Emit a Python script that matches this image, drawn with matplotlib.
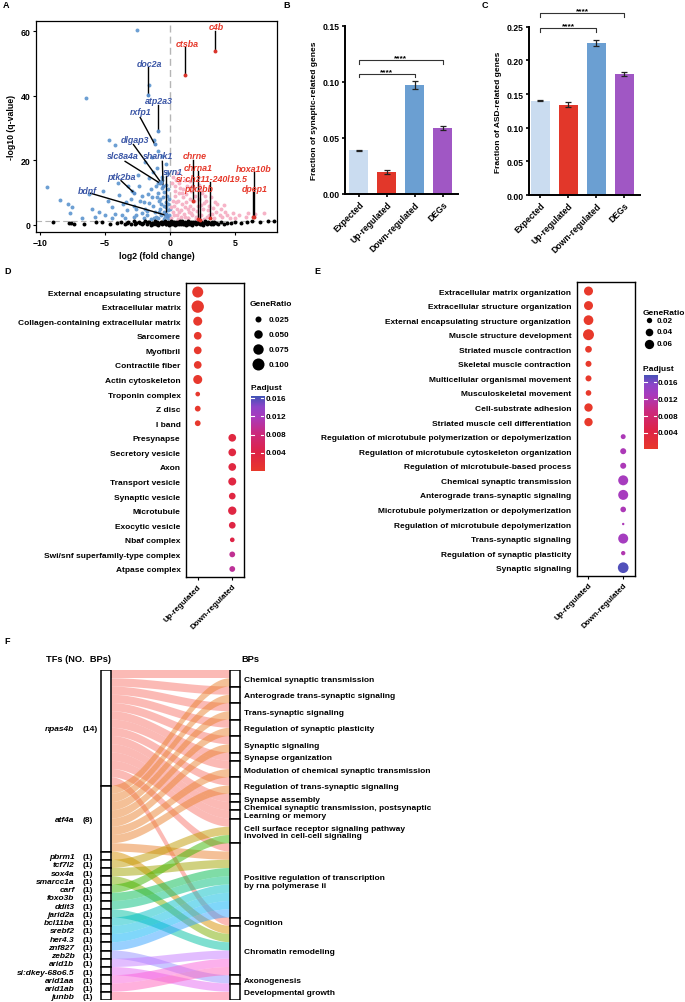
import matplotlib
matplotlib.use("Agg")
import matplotlib.pyplot as plt
import numpy as np
from matplotlib.colors import LinearSegmentedColormap, Normalize
from matplotlib.patches import Rectangle, Polygon

plt.rcParams['font.family'] = ['Liberation Sans', 'DejaVu Sans']
plt.rcParams['font.weight'] = 'bold'
plt.rcParams['axes.labelweight'] = 'bold'

# ======================= DATA =======================
# ---- A: volcano (log2FC, -log10 q) ----
down_pts = [(-2.56,60.4),(-6.49,39.2),(-1.59,43.3),(-4.69,26.4),(-4.23,24.8),(-1.28,26.4),(-0.9,23.0),
            (-9.44,11.7),(-8.46,7.7),(-7.82,6.5),(-7.56,5.5),(-7.7,3.8),(-5.18,10.4),(-6.2,9.5),(-6.0,5.0),
            (-5.5,4.0),(-4.8,7.5),(-4.5,5.5),(-4.2,3.5),(-3.9,9.2),(-3.6,6.5),(-3.3,4.5),(-3.0,8.0),(-2.8,6.0),
            (-2.6,3.0),(-2.4,12.0),(-2.2,9.0),(-2.0,7.0),(-1.9,5.0),(-1.8,3.2),(-1.6,14.5),(-1.5,11.0),(-1.4,8.5),
            (-1.3,6.0),(-1.2,4.0),(-1.1,2.5),(-1.0,17.5),(-0.95,13.0),(-0.9,10.0),(-0.85,7.5),(-0.8,5.0),(-0.7,3.0),
            (-0.65,15.0),(-0.6,11.5),(-0.55,8.5),(-0.5,6.0),(-0.45,4.0),(-0.4,2.5),(-0.35,19.0),(-0.3,12.4),
            (-0.25,9.0),(-0.2,6.5),(-0.15,4.5),(-0.1,3.0),(-5.8,2.5),(-6.8,2.2),(-3.5,2.0),(-2.0,2.0),(-1.5,1.8),
            (-4.0,13.0),(-3.2,12.0),(-2.5,15.5),(-1.9,19.5),(-1.4,21.0),(-0.6,21.5),(-5.0,3.0),(-4.5,2.2),
            (-2.9,10.5),(-2.3,7.5),(-1.7,9.5),(-1.1,12.0),(-0.75,8.0),(-0.3,5.5),(-0.1,8.0),(-1.25,2.0),
            (-0.5,1.8),(-2.6,5.0),(-3.4,7.0),(-0.05,5.0),(-0.2,2.0),(-0.85,4.0),(-1.6,6.8),(-0.45,10.2),
            (-0.7,6.4),(-1.0,8.8),(-0.15,11.0),(-0.9,2.0),(-1.75,4.3),(-2.15,3.6),(-2.75,2.3),(-3.7,3.0),
            (-0.6,14.0),(-0.25,16.0),(-1.3,16.5),(-0.05,2.2),(-0.35,7.2)]
up_pts = [(0.1,2.0),(0.2,4.0),(0.3,6.0),(0.35,9.0),(0.4,12.0),(0.45,14.0),(0.5,3.0),(0.55,5.0),(0.6,7.5),
          (0.65,10.0),(0.7,13.0),(0.8,2.5),(0.85,4.5),(0.9,6.5),(0.95,8.5),(1.0,11.0),(1.05,3.5),(1.1,5.5),
          (1.2,7.0),(1.25,9.5),(1.3,12.0),(1.4,2.2),(1.45,4.0),(1.5,6.0),(1.55,8.0),(1.6,10.5),(1.7,3.0),
          (1.75,5.0),(1.8,7.5),(1.9,9.0),(2.0,2.5),(2.05,4.2),(2.1,6.0),(2.2,8.0),(2.3,11.0),(2.4,3.2),
          (2.5,5.0),(2.6,6.8),(2.7,9.0),(2.8,2.4),(2.9,4.5),(3.0,6.0),(3.1,8.5),(3.2,3.5),(3.3,5.2),(3.4,2.2),
          (3.5,4.0),(3.6,6.5),(3.8,3.0),(3.9,5.0),(4.0,2.5),(4.2,4.0),(4.4,3.0),(4.6,2.2),(4.8,3.6),(5.3,3.0),
          (5.8,2.5),(6.5,3.3),(7.2,3.6),(0.15,13.0),(0.25,15.0),(0.5,16.0),(1.1,14.0),(1.5,13.5),(2.2,12.5),
          (0.2,7.5),(0.4,10.5),(0.75,11.5),(1.35,2.0),(1.65,12.0),(2.45,9.8),(2.75,7.5),(3.45,7.2),(0.1,5.5),
          (0.6,1.8),(1.95,1.8),(2.6,1.9),(4.1,6.2),(5.0,2.0),(6.0,3.8),(0.3,3.2),(0.7,4.0),(1.15,2.6),
          (1.6,3.6),(2.25,3.0),(2.95,3.2),(0.45,7.0),(1.35,5.0),(2.4,6.2),(0.9,9.8),(1.85,11.5)]
ns_pts = [(-9.0,0.9),(-7.8,0.5),(-7.6,0.6),(-7.4,0.4),(-6.6,0.3),(-5.7,0.8),(-5.2,1.0),(-4.6,0.3),(-4.1,0.6),
          (-3.8,1.0),(-3.5,0.4),(-3.2,0.8),(-3.0,0.2),(-2.8,1.1),(-2.6,0.5),(-2.4,0.9),(-2.2,0.2),(-2.1,0.7),
          (-1.9,1.2),(-1.8,0.4),(-1.6,0.9),(-1.5,0.1),(-1.4,0.6),(-1.2,1.1),(-1.1,0.3),(-1.0,0.8),(-0.9,0.0),
          (-0.8,0.5),(-0.7,1.0),(-0.6,0.2),(-0.5,0.7),(-0.4,1.2),(-0.3,0.4),(-0.2,0.9),(-0.1,0.1),(0.0,0.6),
          (0.1,1.1),(0.2,0.3),(0.3,0.8),(0.4,0.0),(0.5,0.5),(0.6,1.0),(0.7,0.2),(0.8,0.7),(0.9,1.2),(1.0,0.4),
          (1.1,0.9),(1.2,0.1),(1.3,0.6),(1.4,1.1),(1.5,0.3),(1.6,0.8),(1.7,0.0),(1.8,0.5),(1.9,1.0),(2.0,0.2),
          (2.1,0.7),(2.2,1.2),(2.3,0.4),(2.4,0.9),(2.5,0.1),(2.6,0.6),(2.7,1.1),(2.8,0.3),(2.9,0.8),(3.0,0.5),
          (3.2,1.0),(3.3,0.2),(3.5,0.7),(3.7,0.4),(3.9,0.9),(4.1,0.3),(4.4,0.7),(4.7,0.5),(5.0,1.0),(5.4,0.6),
          (5.9,0.8),(6.3,1.1),(6.9,1.0),(7.5,1.2),(8.0,1.3),(-1.3,0.2),(-0.95,0.55),(-0.65,0.85),(-0.35,0.15),
          (-0.05,0.45),(0.25,0.95),(0.55,0.25),(0.85,0.35),(1.15,0.55),(1.45,0.75),(1.75,0.95),(2.05,0.45),
          (0.05,0.25),(-0.25,0.65),(0.45,0.85),(0.75,1.15),(1.05,0.15),(1.35,0.35),(-2.3,0.55),(-1.7,0.75),
          (2.35,0.15),(2.65,1.0),(3.1,0.35),(3.4,0.85),(-2.7,0.3),(-3.3,0.6)]
lab_genes = ['c4b', 'ctsba', 'doc2a', 'atp2a3', 'rxfp1', 'dlgap3', 'slc8a4a', 'shank1', 'syn1', 'ptk2ba',
             'bdnf', 'chrne', 'chrna1', 'si:ch211-240l19.5', 'ptk2bb', 'hoxa10b', 'dpep1']
lab_fc = [3.41, 1.15, -1.72, -0.95, -1.20, -0.72, -0.77, -0.55, -0.33, -2.74, -0.26, 1.79, 2.13, 3.03, 2.30, 6.46, 6.33]
lab_q = [53.8, 46.4, 40.2, 29.1, 25.1, 13.2, 12.9, 12.2, 3.4, 9.8, 2.9, 7.5, 1.9, 2.1, 1.6, 2.4, 2.4]
lab_up = [True, True, False, False, False, False, False, False, False, False, False, True, True, True, True, True, True]

# ---- B, C ----
bar_cats = ['Expected', 'Up-regulated', 'Down-regulated', 'DEGs']
syn_frac = [0.039, 0.020, 0.097, 0.059]
syn_err = [0.0005, 0.0018, 0.0035, 0.0018]
asd_frac = [0.140, 0.134, 0.226, 0.180]
asd_err = [0.0008, 0.0040, 0.0040, 0.0030]
sig_pairs = [(0, 2), (0, 3)]
sig_text = ['****', '****']

# ---- D: GO cellular component ----
cc_terms = ['External encapsulating structure', 'Extracellular matrix', 'Collagen-containing extracellular matrix',
            'Sarcomere', 'Myofibril', 'Contractile fiber', 'Actin cytoskeleton', 'Troponin complex', 'Z disc',
            'I band', 'Presynapse', 'Secretory vesicle', 'Axon', 'Transport vesicle', 'Synaptic vesicle',
            'Microtubule', 'Exocytic vesicle', 'Nbaf complex', 'Swi/snf superfamily-type complex', 'Atpase complex']
cc_group = [0]*10 + [1]*10
cc_ratio = [0.084, 0.105, 0.056, 0.041, 0.041, 0.041, 0.056, 0.015, 0.023, 0.023,
            0.041, 0.041, 0.041, 0.044, 0.031, 0.048, 0.031, 0.015, 0.023, 0.023]
cc_padj = [0.0003]*10 + [0.0032, 0.0032, 0.0033, 0.0034, 0.0035, 0.0036, 0.0037, 0.0040, 0.0095, 0.0098]
cc_size_breaks = [0.025, 0.050, 0.075, 0.100]

# ---- E: GO biological process ----
bp_terms = ['Extracellular matrix organization', 'Extracellular structure organization',
            'External encapsulating structure organization', 'Muscle structure development',
            'Striated muscle contraction', 'Skeletal muscle contraction', 'Multicellular organismal movement',
            'Musculoskeletal movement', 'Cell-substrate adhesion', 'Striated muscle cell differentiation',
            'Regulation of microtubule polymerization or depolymerization',
            'Regulation of microtubule cytoskeleton organization', 'Regulation of microtubule-based process',
            'Chemical synaptic transmission', 'Anterograde trans-synaptic signaling',
            'Microtubule polymerization or depolymerization', 'Regulation of microtubule depolymerization',
            'Trans-synaptic signaling', 'Regulation of synaptic plasticity', 'Synaptic signaling']
bp_group = [0]*10 + [1]*10
bp_ratio = [0.056, 0.056, 0.065, 0.083, 0.031, 0.025, 0.025, 0.022, 0.048, 0.048,
            0.017, 0.025, 0.025, 0.069, 0.069, 0.022, 0.004, 0.069, 0.013, 0.079]
bp_padj = [0.0003]*10 + [0.0125, 0.0125, 0.0125, 0.0130, 0.0130, 0.0125, 0.0125, 0.0132, 0.0120, 0.0172]
bp_size_breaks = [0.02, 0.04, 0.06]
padj_breaks = [0.004, 0.008, 0.012, 0.016]

# ---- F: TF -> BP sankey ----
tf_order = ['npas4b', 'atf4a', 'pbrm1', 'tcf7l2', 'sox4a', 'smarcc1a', 'carf', 'foxo3b', 'ddit3', 'jarid2a',
            'bcl11ba', 'srebf2', 'her4.3', 'znf827', 'zeb2b', 'arid1b', 'si:dkey-68o6.5', 'arid1aa',
            'arid1ab', 'junbb']
bp_order = ['Chemical synaptic transmission', 'Anterograde trans-synaptic signaling', 'Trans-synaptic signaling',
            'Regulation of synaptic plasticity', 'Synaptic signaling', 'Synapse organization',
            'Modulation of chemical synaptic transmission', 'Regulation of trans-synaptic signaling',
            'Synapse assembly', 'Chemical synaptic transmission, postsynaptic', 'Learning or memory',
            'Cell surface receptor signaling pathway\ninvolved in cell-cell signaling',
            'Positive regulation of transcription\nby rna polymerase ii', 'Cognition', 'Chromatin remodeling',
            'Axonogenesis', 'Developmental growth']
B = bp_order
tf_targets = {
    'npas4b': [B[0], B[1], B[2], B[3], B[4], B[5], B[6], B[7], B[8], B[9], B[10], B[11], B[12], B[13]],
    'atf4a': [B[0], B[1], B[2], B[3], B[4], B[6], B[7], B[12]],
    'pbrm1': [B[14]], 'tcf7l2': [B[11]], 'sox4a': [B[12]], 'smarcc1a': [B[14]], 'carf': [B[11]],
    'foxo3b': [B[12]], 'ddit3': [B[12]], 'jarid2a': [B[14]], 'bcl11ba': [B[12]], 'srebf2': [B[12]],
    'her4.3': [B[12]], 'znf827': [B[12]], 'zeb2b': [B[15]], 'arid1b': [B[14]], 'si:dkey-68o6.5': [B[16]],
    'arid1aa': [B[14]], 'arid1ab': [B[14]], 'junbb': [B[16]],
}

# ======================= LAYOUT HELPERS =======================
W, H = 685, 1003
fig = plt.figure(figsize=(W / 100, H / 100), dpi=100)


def px_axes(l, t, r, b):
    return fig.add_axes([l / W, 1 - b / H, (r - l) / W, (b - t) / H])


LBL = 6.0
BLUE_TXT = '#3b56a6'
RED_TXT = '#e6392b'

# panel letters
for letter, (x, y) in zip('ABCDEF', [(3, 6), (283, 6), (482, 6), (4, 271), (314, 271), (4, 642)]):
    fig.text(x / W, 1 - y / H, letter, fontsize=6.5, fontweight='bold', va='center', ha='left')

# ======================= A =======================
axA = px_axes(36, 22, 277, 233)
nx, ny = zip(*ns_pts)
dx, dy = zip(*down_pts)
ux, uy = zip(*up_pts)
axA.scatter(dx, dy, s=8, c='#6c9fd3', lw=0, zorder=2)
axA.scatter(ux, uy, s=8, c='#f6b3c7', lw=0, zorder=2)
axA.scatter(nx, ny, s=8, c='black', lw=0, zorder=3)
axA.axvline(0, color='#b5b5b5', ls=(0, (5, 3)), lw=1.0, zorder=1)
axA.axhline(1.3, color='#b5b5b5', ls=(0, (5, 3)), lw=0.8, zorder=1)

lab_text_xy = [(3.51, 61.5), (1.28, 56.2), (-1.62, 50.0), (-0.9, 38.5), (-2.26, 35.2), (-2.69, 26.4),
               (-3.67, 21.5), (-0.9, 21.5), (0.2, 16.6), (-3.72, 15.0), (-6.36, 10.8), (1.92, 21.5),
               (2.18, 17.8), (3.2, 14.4), (2.18, 11.4), (6.41, 17.6), (6.46, 11.4)]
lab_seg_start = [(3.41, 60.2), (1.15, 55.0), (-1.72, 48.8), (-0.95, 37.2), (-2.3, 33.3), (-2.82, 24.9),
                 (-3.46, 19.7), (-0.6, 19.7), (-0.33, 15.3), (-3.77, 13.7), (-6.1, 9.8), (1.79, 20.2),
                 (2.13, 16.6), (3.03, 13.2), (2.3, 10.2), (6.46, 16.5), (6.33, 10.1)]
for g, fc, q, up, (tx, ty), (sx, sy) in zip(lab_genes, lab_fc, lab_q, lab_up, lab_text_xy, lab_seg_start):
    col = RED_TXT if up else BLUE_TXT
    axA.plot([sx, fc], [sy, q], color='black', lw=1.0, zorder=4)
    axA.scatter([fc], [q], s=8, c=('#d9342b' if up else '#5b8fcb'), lw=0, zorder=5)
    axA.text(tx, ty, g, color=col, fontsize=6.4, fontweight='bold', style='italic', ha='center',
             va='center', zorder=6)
axA.set_xlim(-10.3, 8.2)
axA.set_ylim(-2.2, 63.2)
axA.set_xticks([-10, -5, 0, 5])
axA.set_yticks([0, 20, 40, 60])
axA.tick_params(labelsize=6.3, length=2.5, width=0.8, pad=1.5)
for sp in axA.spines.values():
    sp.set_linewidth(0.9)
axA.set_ylabel('-log10 (q-value)', fontsize=6.3, fontweight='bold', labelpad=3)
axA.set_xlabel('log2 (fold change)', fontsize=6.3, fontweight='bold', labelpad=3)

# ======================= B & C =======================
bar_colors = ['#cadcf0', '#e2372a', '#6b9fd2', '#a057c4']


def bar_panel(ax, vals, errs, ylim, yticks, ylabel, xlim, br_y, br_drop):
    xs = np.arange(len(bar_cats))
    ax.bar(xs, vals, width=0.68, color=bar_colors, zorder=2)
    ax.errorbar(xs, vals, yerr=errs, fmt='none', ecolor='#222222', elinewidth=0.9, capsize=2.0,
                capthick=0.9, zorder=3)
    ax.set_xlim(*xlim)
    ax.set_ylim(*ylim)
    ax.set_yticks(yticks)
    ax.set_yticklabels([f'{t:.2f}' for t in yticks])
    ax.set_xticks(xs)
    ax.set_xticklabels(bar_cats, rotation=45, ha='right', rotation_mode='anchor')
    ax.tick_params(labelsize=6.2, length=2.5, width=1.2, pad=1.5)
    for s in ['top', 'right']:
        ax.spines[s].set_visible(False)
    for s in ['left', 'bottom']:
        ax.spines[s].set_linewidth(1.4)
    ax.set_ylabel(ylabel, fontsize=6.0, fontweight='bold', labelpad=3)
    for (a, b), txt, y in zip(sig_pairs, sig_text, br_y):
        ax.plot([a, a, b, b], [y - br_drop, y, y, y - br_drop], color='#333333', lw=0.8, clip_on=False)
        ax.text((a + b) / 2, y - br_drop * 0.3, txt, ha='center', va='bottom', fontsize=6.0, clip_on=False)


axB = px_axes(345, 26.7, 458, 195)
bar_panel(axB, syn_frac, syn_err, (0, 0.15), [0, 0.05, 0.10, 0.15], 'Fraction of synaptic-related genes',
          (-0.5, 3.55), [0.107, 0.119], 0.003)
axC = px_axes(529, 27.7, 640, 196)
bar_panel(axC, asd_frac, asd_err, (0, 0.25), [0, 0.05, 0.10, 0.15, 0.20, 0.25], 'Fraction of ASD-related genes',
          (-0.4, 3.57), [0.2476, 0.270], 0.005)

# ======================= D & E =======================
cmap = LinearSegmentedColormap.from_list('padj', [(0.0, '#e8392b'), (0.25, '#de2347'), (0.5, '#cc2a7d'),
                                                  (0.72, '#a93bbd'), (0.86, '#8d45c9'), (1.0, '#4053b6')])
SIZE_K = 750.0  # scatter area (pt^2) per unit GeneRatio
groups = ['Up-regulated', 'Down-regulated']


def dot_panel(rect, terms, grp, ratio, padj, norm):
    ax = px_axes(*rect)
    n = len(terms)
    ys = np.arange(n)
    ax.scatter(grp, ys, s=np.array(ratio) * SIZE_K, c=padj, cmap=cmap, norm=norm, lw=0, zorder=3)
    ax.set_xlim(-0.34, 1.34)
    ax.set_ylim(n - 0.45, -0.6)
    ax.set_yticks(ys)
    ax.set_yticklabels(terms)
    ax.set_xticks([0, 1])
    ax.set_xticklabels(groups, rotation=45, ha='right', rotation_mode='anchor')
    ax.tick_params(axis='y', length=0, pad=4, labelsize=LBL)
    ax.tick_params(axis='x', length=2, width=0.8, pad=2, labelsize=5.8)
    for sp in ax.spines.values():
        sp.set_linewidth(1.0)
    return ax


def colorbar_px(rect, vmin, vmax, label_x):
    cax = px_axes(*rect)
    grad = np.linspace(vmin, vmax, 256).reshape(-1, 1)
    cax.imshow(grad, aspect='auto', cmap=cmap, norm=Normalize(vmin, vmax), origin='lower',
               extent=(0, 1, vmin, vmax))
    cax.set_xlim(0, 1)
    cax.set_ylim(vmin, vmax)
    cax.axis('off')
    for t in padj_breaks:
        cax.plot([0, 0.22], [t, t], color='white', lw=0.8)
        cax.plot([0.78, 1], [t, t], color='white', lw=0.8)
        fig.text(label_x / W, (1 - (rect[3] - (t - vmin) / (vmax - vmin) * (rect[3] - rect[1])) / H),
                 f'{t:.3f}', fontsize=5.9, fontweight='bold', va='center', ha='left')


normD = Normalize(0.0, 0.0166)
axD = dot_panel((186, 284.3, 244, 578), cc_terms, cc_group, cc_ratio, cc_padj, normD)
colorbar_px((250.7, 396.7, 264, 471.7), 0.0, 0.0166, 265.5)

normE = Normalize(0.0002, 0.0178)
axE = dot_panel((576.7, 283.3, 635, 576.7), bp_terms, bp_group, bp_ratio, bp_padj, normE)
colorbar_px((644, 375.7, 657.3, 450), 0.0002, 0.0178, 658)

# overlay axes in pixel coordinates for legends
ov = fig.add_axes([0, 0, 1, 1])
ov.set_xlim(0, W)
ov.set_ylim(H, 0)
ov.axis('off')
ov.patch.set_alpha(0)

ov.text(250, 304, 'GeneRatio', fontsize=6.0, fontweight='bold', ha='left', va='center')
for br, y in zip(cc_size_breaks, [320, 335, 350, 365]):
    ov.scatter([257.7], [y], s=br * SIZE_K, c='black', lw=0)
    ov.text(269, y, f'{br:.3f}', fontsize=5.9, fontweight='bold', ha='left', va='center')
ov.text(250.5, 388, 'P.adjust', fontsize=6.0, fontweight='bold', ha='left', va='center')

ov.text(643, 313, 'GeneRatio', fontsize=6.0, fontweight='bold', ha='left', va='center')
for br, y in zip(bp_size_breaks, [321, 332.5, 344.5]):
    ov.scatter([649.5], [y], s=br * SIZE_K, c='black', lw=0)
    ov.text(657, y, f'{br:.2f}', fontsize=5.9, fontweight='bold', ha='left', va='center')
ov.text(643, 369.5, 'P.adjust', fontsize=6.0, fontweight='bold', ha='left', va='center')

# ======================= F: sankey =======================
hue20 = ['#F8766D', '#EA8331', '#D89000', '#C09B00', '#A3A500', '#7CAE00', '#39B600', '#00BB4E', '#00BF7D',
         '#00C1A3', '#00BFC4', '#00BAE0', '#00B0F6', '#35A2FF', '#9590FF', '#C77CFF', '#E76BF3', '#FA62DB',
         '#FF62BC', '#FF6C91']
tf_color = dict(zip(tf_order, hue20))

total = sum(len(v) for v in tf_targets.values())
axF = px_axes(0, 671, W, 1001)
axF.set_xlim(0, W)
axF.set_ylim(total, 0)
axF.axis('off')

L0, L1 = 101.5, 111.5
R0, R1 = 230.0, 240.0

tf_top = {}
c = 0
for tf in tf_order:
    tf_top[tf] = c
    c += len(tf_targets[tf])
bp_sources = {bp: [tf for tf in tf_order if bp in tf_targets[tf]] for bp in bp_order}
bp_top = {}
c = 0
for bp in bp_order:
    bp_top[bp] = c
    c += len(bp_sources[bp])

left_slot, right_slot = {}, {}
for tf in tf_order:
    for i, bp in enumerate(sorted(tf_targets[tf], key=bp_order.index)):
        left_slot[(tf, bp)] = tf_top[tf] + i
for bp in bp_order:
    for i, tf in enumerate(bp_sources[bp]):
        right_slot[(tf, bp)] = bp_top[bp] + i

tt = np.linspace(0, 1, 60)
sm = tt * tt * (3 - 2 * tt)
xs_curve = L1 + (R0 - L1) * tt
for tf in tf_order:
    for bp in tf_targets[tf]:
        yl = left_slot[(tf, bp)]
        yr = right_slot[(tf, bp)]
        top = yl + (yr - yl) * sm
        bot = top + 1
        poly = np.vstack([np.column_stack([xs_curve, top]), np.column_stack([xs_curve[::-1], bot[::-1]])])
        axF.add_patch(Polygon(poly, closed=True, facecolor=tf_color[tf], edgecolor='none', alpha=0.5, zorder=2))

for tf in tf_order:
    n = len(tf_targets[tf])
    axF.add_patch(Rectangle((L0, tf_top[tf]), L1 - L0, n, facecolor='white', edgecolor='black', lw=1.1, zorder=3))
    yc = tf_top[tf] + n / 2 + 0.12
    axF.text(74.5, yc, tf, fontsize=LBL, fontweight='bold', style='italic', ha='right', va='center')
    axF.text(82.5, yc, f'({n})', fontsize=LBL, fontweight='bold', ha='left', va='center')
for bp in bp_order:
    n = len(bp_sources[bp])
    axF.add_patch(Rectangle((R0, bp_top[bp]), R1 - R0, n, facecolor='white', edgecolor='black', lw=1.1, zorder=3))
    axF.text(244, bp_top[bp] + n / 2 + 0.15, bp, fontsize=LBL, fontweight='bold', ha='left', va='center',
             linespacing=1.1)

ov.text(46.5, 659.5, 'TFs (NO.  BPs)', fontsize=6.7, fontweight='bold', ha='left', va='center')
ov.text(241, 659.5, 'BPs', fontsize=6.7, fontweight='bold', ha='left', va='center')

fig.savefig('out.png', dpi=100)
